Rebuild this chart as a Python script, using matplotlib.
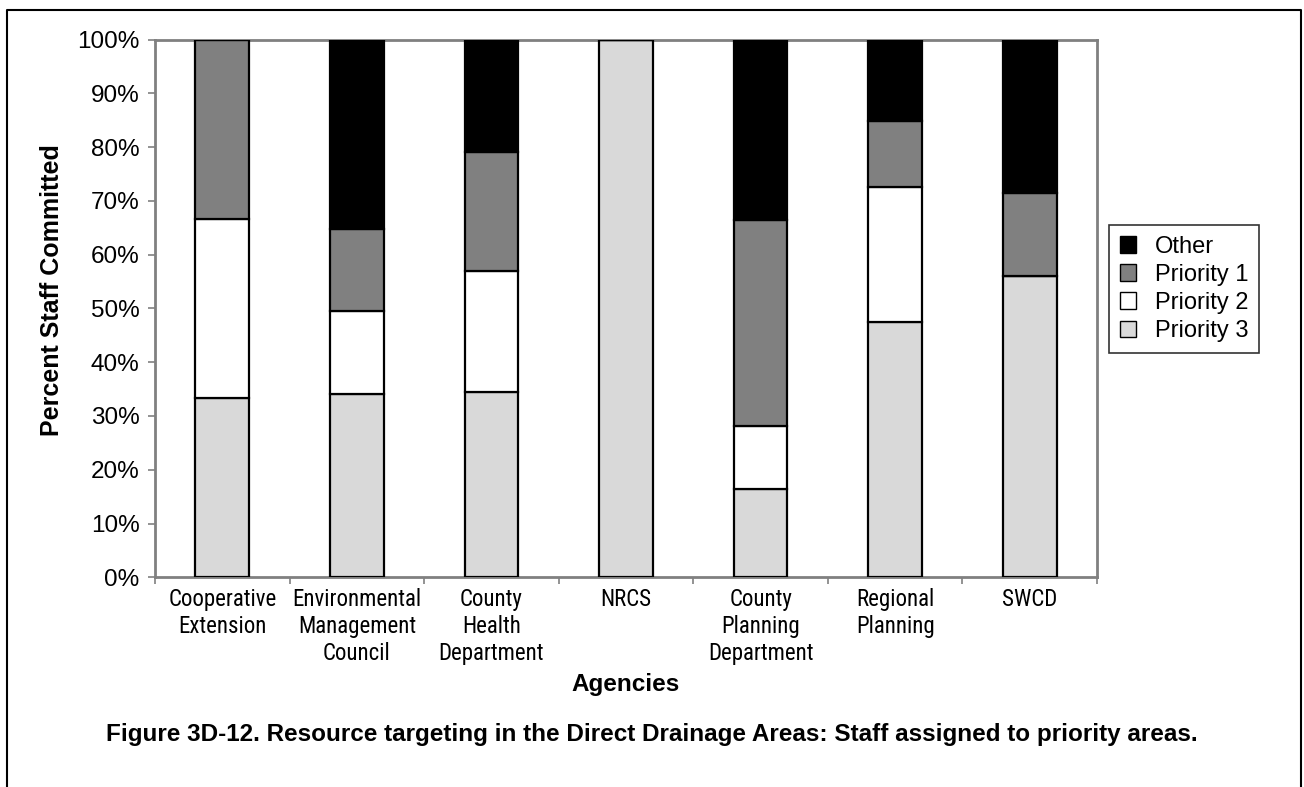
import numpy as np
import matplotlib.pyplot as plt
from matplotlib import font_manager
from matplotlib.lines import Line2D
from matplotlib.ticker import FixedLocator, PercentFormatter

plt.rcParams['font.family'] = ['Liberation Sans', 'DejaVu Sans']

agences = ["Cooperative\nExtension", "Environmental\nManagement\nCouncil",
           "County\nHealth\nDepartment", "NRCS", "County\nPlanning\nDepartment",
           "Regional\nPlanning", "SWCD"]

# valeurs (en %)
priorite_3 = [33.3, 34.0, 34.5, 100.0, 16.5, 47.5, 56.1]
priorite_2 = [33.3, 15.5, 22.4, 0.0, 11.7, 25.0, 0.0]
priorite_1 = [33.4, 15.2, 22.2, 0.0, 38.2, 12.3, 15.4]
autre = [0.0, 35.3, 20.9, 0.0, 33.6, 15.2, 28.5]

series = [("Priority 3", priorite_3, "#d9d9d9"),
          ("Priority 2", priorite_2, "#ffffff"),
          ("Priority 1", priorite_1, "#808080"),
          ("Other", autre, "#000000")]

# police étroite pour les étiquettes des agences (Arial Narrow dans l'original)
police_x, taille_x = ["Liberation Sans", "DejaVu Sans"], 15
for nom_police, taille in [("Liberation Sans Narrow", 17), ("Roboto Condensed", 16.5)]:
    try:
        font_manager.findfont(nom_police, fallback_to_default=False)
        police_x, taille_x = [nom_police, "DejaVu Sans"], taille
        break
    except ValueError:
        pass

W, H = 1304, 787
fig = plt.figure(figsize=(W / 100, H / 100), dpi=100)
ax = fig.add_axes([155 / W, 1 - 577.3 / H, 942 / W, 537.8 / H])

x = np.arange(len(agences))
bas = np.zeros(len(agences))
barres = {}
for nom, vals, couleur in series:
    vals = np.array(vals)
    barres[nom] = ax.bar(x, vals, width=0.4, bottom=bas, color=couleur,
                         edgecolor="black", linewidth=1.6, label=nom, zorder=3)
    bas += vals

ax.set_xlim(-0.5, len(agences) - 0.5)
ax.set_ylim(0, 100)
ax.yaxis.set_major_locator(FixedLocator(np.arange(0, 101, 10)))
ax.yaxis.set_major_formatter(PercentFormatter(decimals=0))

ax.set_xticks(x)
ax.set_xticklabels(agences, family=police_x, fontsize=taille_x, linespacing=1.22)
ax.xaxis.set_minor_locator(FixedLocator(np.arange(-0.5, len(agences), 1)))
ax.tick_params(axis="x", which="major", length=0, pad=8)
ax.tick_params(axis="x", which="minor", length=5, width=1.2, color="#808080", direction="out")
ax.tick_params(axis="y", length=5, width=1.2, color="#808080", labelsize=17.5, pad=6)

for s in ax.spines.values():
    s.set_color("#808080")
    s.set_linewidth(2)

fig.text(52 / W, 1 - 290 / H, "Percent Staff Committed", fontsize=18, fontweight="bold",
         rotation=90, ha="center", va="center")
fig.text(626 / W, 1 - 684 / H, "Agencies", fontsize=17.5, fontweight="bold",
         ha="center", va="center")
fig.text(652 / W, 1 - 735 / H,
         "Figure 3D-12. Resource targeting in the Direct Drainage Areas: Staff assigned to priority areas.",
         fontsize=17.5, fontweight="bold", ha="center", va="center")

ordre = ["Other", "Priority 1", "Priority 2", "Priority 3"]
leg = ax.legend([barres[n] for n in ordre], ordre, loc="upper left",
                bbox_to_anchor=(1109 / W, 1 - 225 / H), bbox_transform=fig.transFigure,
                fontsize=17, frameon=True, fancybox=False, edgecolor="black",
                handlelength=0.7, handleheight=0.7, handletextpad=0.8,
                labelspacing=0.26, borderpad=0.45, borderaxespad=0)
leg.get_frame().set_linewidth(1.2)
for p in leg.get_patches():
    p.set_linewidth(1)

# cadre autour de la figure (ouvert en bas)
xg, xd, yh = 7 / W, 1301 / W, 1 - 9.5 / H
fig.add_artist(Line2D([xg, xg, xd, xd], [0, yh, yh, 0], color="black", linewidth=1.5,
                      transform=fig.transFigure))

plt.savefig("out.png", dpi=100)
